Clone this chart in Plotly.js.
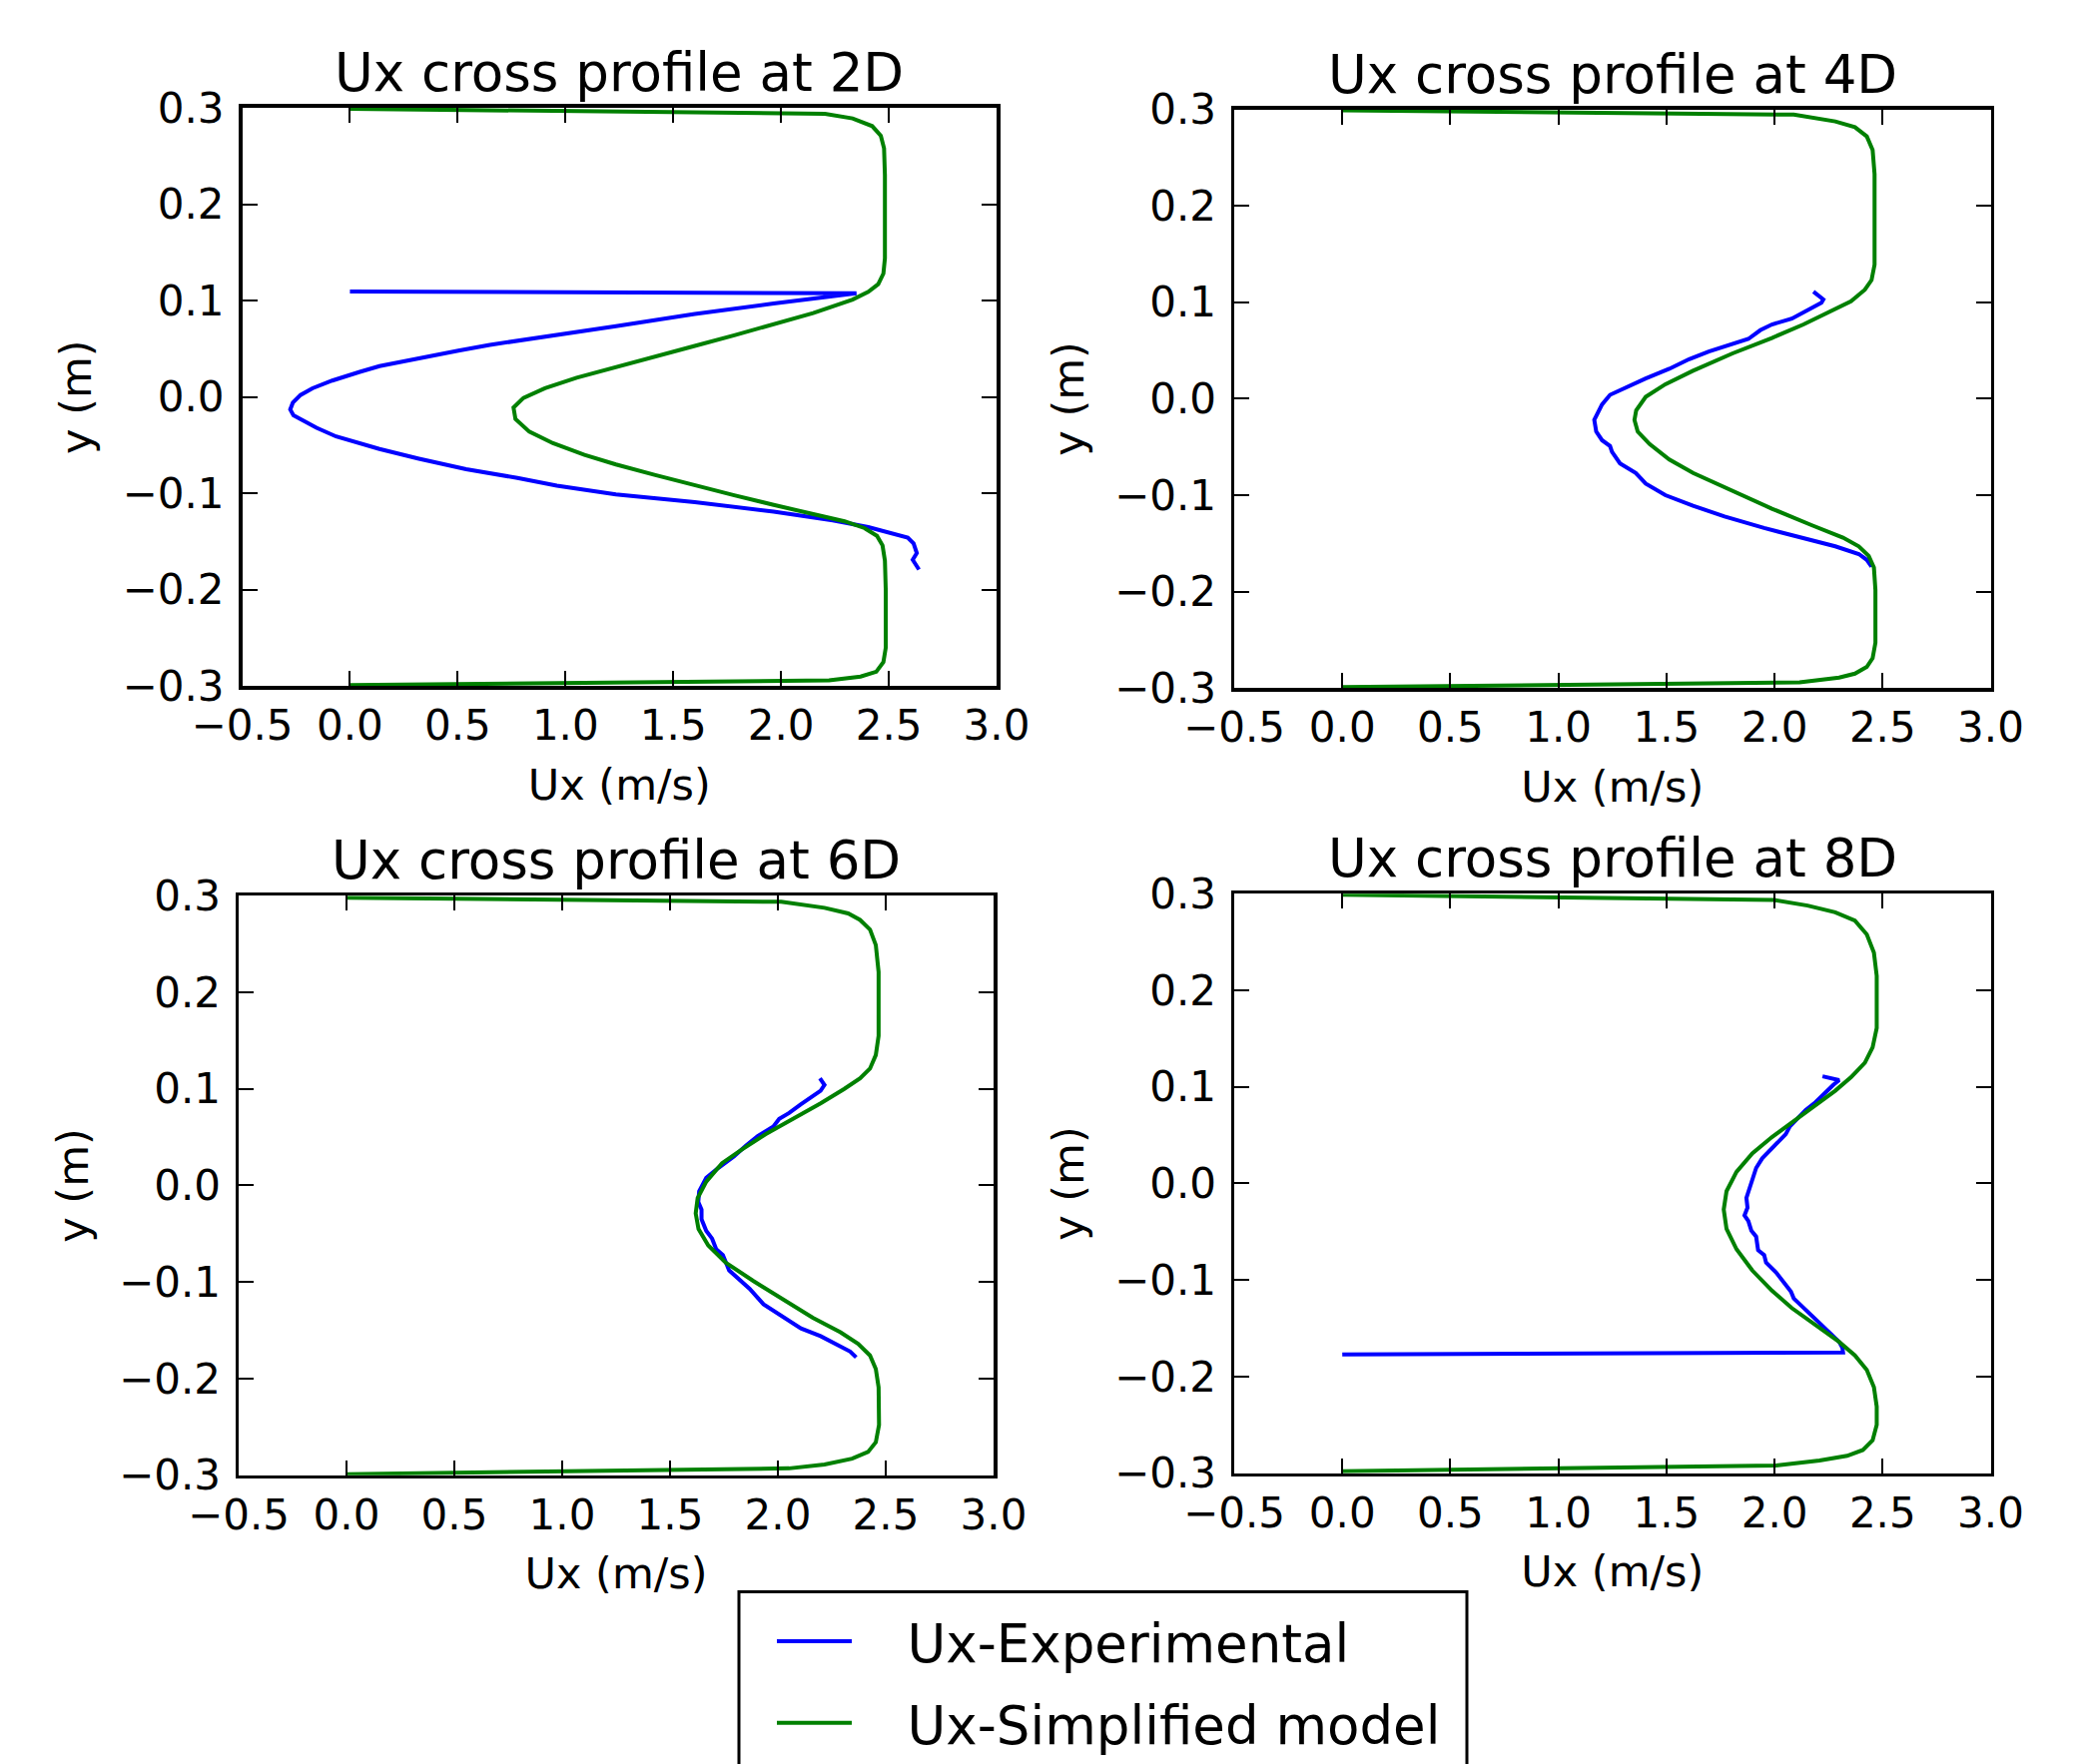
<!DOCTYPE html>
<html>
<head>
<meta charset="utf-8">
<script src="https://cdn.plot.ly/plotly-3.0.1.min.js"></script>
<style>html,body{margin:0;padding:0;background:#fff;}#chart{width:2084px;height:1767px;}</style>
</head>
<body>
<div id="chart"></div>
<script>
// ---- Data ----
const stations = ['2D', '4D', '6D', '8D'];
const xTickVals = [-0.5, 0, 0.5, 1.0, 1.5, 2.0, 2.5, 3.0];
const xTickText = ['\u22120.5', '0.0', '0.5', '1.0', '1.5', '2.0', '2.5', '3.0'];
const yTickVals = [-0.3, -0.2, -0.1, 0.0, 0.1, 0.2, 0.3];
const yTickText = ['\u22120.3', '\u22120.2', '\u22120.1', '0.0', '0.1', '0.2', '0.3'];

// 2D
const exp2D_ux = [0.0, 2.35, 1.966, 1.600, 1.234, 0.869, 0.649, 0.503, 0.320, 0.137, 0.046, -0.082, -0.174, -0.229, -0.265, -0.277, -0.262, -0.229, -0.155, -0.064, 0.137, 0.320, 0.539, 0.777, 0.960, 1.234, 1.600, 1.966, 2.240, 2.405, 2.515, 2.588, 2.615, 2.630, 2.611, 2.625, 2.640];
const exp2D_y  = [0.1095, 0.1076, 0.097, 0.086, 0.0735, 0.0617, 0.054, 0.048, 0.040, 0.032, 0.026, 0.017, 0.009, 0.002, -0.006, -0.013, -0.019, -0.023, -0.032, -0.041, -0.054, -0.064, -0.075, -0.084, -0.092, -0.101, -0.109, -0.119, -0.128, -0.135, -0.141, -0.146, -0.152, -0.162, -0.169, -0.174, -0.179];
const sim2D_ux = [0.0, 2.204, 2.332, 2.423, 2.463, 2.478, 2.482, 2.482, 2.475, 2.451, 2.405, 2.332, 2.149, 1.966, 1.783, 1.600, 1.417, 1.234, 1.052, 0.905, 0.805, 0.759, 0.768, 0.832, 0.942, 1.088, 1.234, 1.417, 1.600, 1.783, 1.966, 2.149, 2.295, 2.387, 2.445, 2.471, 2.482, 2.486, 2.486, 2.475, 2.442, 2.369, 2.223, 0.0];
const sim2D_y  = [0.299, 0.2937, 0.289, 0.281, 0.271, 0.258, 0.230, 0.144, 0.128, 0.117, 0.109, 0.101, 0.087, 0.075, 0.064, 0.053, 0.042, 0.032, 0.020, 0.009, -0.001, -0.011, -0.023, -0.036, -0.048, -0.060, -0.070, -0.081, -0.092, -0.102, -0.112, -0.121, -0.129, -0.136, -0.144, -0.154, -0.170, -0.201, -0.260, -0.275, -0.285, -0.290, -0.294, -0.299];

// 4D
const exp4D_ux = [2.180, 2.226, 2.217, 2.153, 2.080, 1.988, 1.934, 1.879, 1.806, 1.696, 1.605, 1.513, 1.404, 1.312, 1.239, 1.202, 1.166, 1.175, 1.202, 1.239, 1.248, 1.285, 1.312, 1.358, 1.404, 1.495, 1.623, 1.769, 1.952, 2.134, 2.281, 2.390, 2.427, 2.449];
const exp4D_y  = [0.111, 0.103, 0.0995, 0.092, 0.083, 0.077, 0.071, 0.062, 0.057, 0.049, 0.041, 0.031, 0.021, 0.011, 0.004, -0.006, -0.022, -0.034, -0.043, -0.049, -0.055, -0.067, -0.071, -0.077, -0.088, -0.100, -0.111, -0.122, -0.134, -0.144, -0.153, -0.161, -0.167, -0.174];
const sim4D_ux = [0.0, 2.089, 2.281, 2.372, 2.427, 2.454, 2.463, 2.463, 2.449, 2.418, 2.354, 2.262, 2.134, 1.988, 1.806, 1.623, 1.495, 1.404, 1.360, 1.352, 1.367, 1.422, 1.513, 1.623, 1.806, 1.988, 2.171, 2.317, 2.390, 2.436, 2.460, 2.467, 2.467, 2.454, 2.427, 2.372, 2.299, 2.116, 0.0];
const sim4D_y  = [0.299, 0.2945, 0.2875, 0.2816, 0.272, 0.258, 0.233, 0.139, 0.123, 0.113, 0.101, 0.091, 0.077, 0.063, 0.047, 0.029, 0.015, 0.002, -0.012, -0.022, -0.034, -0.047, -0.063, -0.077, -0.096, -0.114, -0.131, -0.144, -0.153, -0.163, -0.175, -0.198, -0.253, -0.269, -0.278, -0.285, -0.289, -0.294, -0.299];

// 6D
const exp6D_ux = [2.195, 2.216, 2.198, 2.162, 2.107, 2.052, 2.006, 1.979, 1.906, 1.851, 1.796, 1.723, 1.668, 1.635, 1.631, 1.646, 1.646, 1.668, 1.695, 1.714, 1.745, 1.774, 1.814, 1.869, 1.933, 2.015, 2.107, 2.198, 2.271, 2.335, 2.363];
const exp6D_y  = [0.111, 0.104, 0.098, 0.092, 0.084, 0.075, 0.069, 0.061, 0.051, 0.041, 0.030, 0.018, 0.008, -0.006, -0.017, -0.025, -0.035, -0.047, -0.055, -0.066, -0.072, -0.088, -0.096, -0.107, -0.123, -0.135, -0.148, -0.156, -0.164, -0.172, -0.178];
const sim6D_ux = [0.0, 2.015, 2.216, 2.326, 2.381, 2.427, 2.454, 2.467, 2.467, 2.454, 2.427, 2.381, 2.308, 2.198, 2.070, 1.942, 1.832, 1.741, 1.668, 1.628, 1.619, 1.632, 1.677, 1.759, 1.887, 2.034, 2.162, 2.290, 2.372, 2.427, 2.454, 2.467, 2.469, 2.454, 2.418, 2.344, 2.216, 2.052, 0.0];
const sim6D_y  = [0.298, 0.2937, 0.2875, 0.2817, 0.275, 0.265, 0.249, 0.221, 0.155, 0.135, 0.121, 0.111, 0.100, 0.085, 0.069, 0.053, 0.037, 0.023, 0.004, -0.013, -0.029, -0.045, -0.062, -0.080, -0.099, -0.119, -0.137, -0.152, -0.164, -0.176, -0.190, -0.209, -0.248, -0.266, -0.276, -0.283, -0.289, -0.293, -0.299];

// 8D
const exp8D_ux = [2.222, 2.299, 2.272, 2.226, 2.189, 2.144, 2.116, 2.071, 2.052, 2.016, 1.979, 1.943, 1.915, 1.893, 1.870, 1.875, 1.861, 1.879, 1.893, 1.915, 1.924, 1.952, 1.961, 2.007, 2.043, 2.076, 2.089, 2.134, 2.208, 2.262, 2.299, 2.314, 2.317, 0.0];
const exp8D_y  = [0.111, 0.107, 0.102, 0.092, 0.084, 0.076, 0.069, 0.059, 0.051, 0.043, 0.035, 0.026, 0.016, 0.000, -0.015, -0.025, -0.033, -0.039, -0.049, -0.055, -0.069, -0.074, -0.082, -0.092, -0.102, -0.112, -0.119, -0.129, -0.145, -0.156, -0.164, -0.170, -0.175, -0.177];
const sim8D_ux = [0.0, 1.999, 2.153, 2.281, 2.372, 2.427, 2.460, 2.473, 2.473, 2.454, 2.418, 2.354, 2.281, 2.189, 2.098, 1.988, 1.897, 1.824, 1.778, 1.765, 1.778, 1.824, 1.897, 1.988, 2.080, 2.189, 2.299, 2.372, 2.427, 2.460, 2.473, 2.473, 2.454, 2.409, 2.336, 2.208, 2.007, 0.0];
const sim8D_y  = [0.299, 0.2935, 0.2878, 0.2808, 0.2722, 0.258, 0.239, 0.215, 0.161, 0.141, 0.125, 0.110, 0.096, 0.081, 0.065, 0.048, 0.031, 0.012, -0.008, -0.027, -0.047, -0.068, -0.090, -0.111, -0.129, -0.147, -0.164, -0.178, -0.193, -0.211, -0.231, -0.250, -0.266, -0.276, -0.282, -0.287, -0.292, -0.298];

const seriesNames = ['Ux-Experimental', 'Ux-Simplified model'];
const titleText = 'Ux cross profile at ';
const xLabel = 'Ux (m/s)';
const yLabel = 'y (m)';

// ---- Layout ----
const W = 2084, H = 1767;
const FONT = 'DejaVu Sans, Verdana, sans-serif';
const boxes = [ // pixel boxes: [left, right, top, bottom]
  [242.5, 998, 109, 694],
  [1236, 1993.5, 110.6, 696],
  [239, 995, 906, 1492],
  [1236, 1993.5, 904, 1490]
];
const expData = [[exp2D_ux, exp2D_y], [exp4D_ux, exp4D_y], [exp6D_ux, exp6D_y], [exp8D_ux, exp8D_y]];
const simData = [[sim2D_ux, sim2D_y], [sim4D_ux, sim4D_y], [sim6D_ux, sim6D_y], [sim8D_ux, sim8D_y]];
const PAD = '\u00a0\u00a0\u00a0';

const traces = [];
const layout = {
  width: W, height: H,
  margin: {l: 0, r: 0, t: 0, b: 0},
  paper_bgcolor: '#fff', plot_bgcolor: '#fff',
  font: {family: FONT, color: '#000'},
  showlegend: true,
  legend: {
    x: 773 / W, xanchor: 'left',
    y: 1 - 1619 / H, yanchor: 'top',
    borderwidth: 0, bgcolor: 'rgba(0,0,0,0)',
    font: {family: FONT, size: 53, color: '#000'},
    traceorder: 'grouped', tracegroupgap: 10,
    itemwidth: 75
  },
  shapes: [{
    type: 'rect', xref: 'paper', yref: 'paper', layer: 'above',
    x0: 740 / W, x1: 1469 / W, y0: 1 - 1610 / H, y1: 1 - 1800 / H,
    line: {color: '#000', width: 3}, fillcolor: 'rgba(0,0,0,0)'
  }],
  annotations: []
};

stations.forEach((st, i) => {
  const n = i + 1;
  const xa = 'x' + (n === 1 ? '' : n), ya = 'y' + (n === 1 ? '' : n);
  const b = boxes[i];
  traces.push({
    x: expData[i][0], y: expData[i][1], xaxis: xa, yaxis: ya,
    type: 'scatter', mode: 'lines', name: PAD + seriesNames[0],
    legendgroup: 'exp', showlegend: i === 0,
    line: {color: '#0000ff', width: 4}
  });
  traces.push({
    x: simData[i][0], y: simData[i][1], xaxis: xa, yaxis: ya,
    type: 'scatter', mode: 'lines', name: PAD + seriesNames[1],
    legendgroup: 'sim', showlegend: i === 0,
    line: {color: '#008000', width: 4}
  });
  const common = {
    showline: true, linecolor: '#000', linewidth: 3.5, mirror: 'allticks',
    ticks: 'inside', ticklen: 15, tickwidth: 2, tickcolor: '#000',
    showgrid: false, zeroline: false, fixedrange: true,
    tickfont: {family: FONT, size: 42, color: '#000'}
  };
  layout['xaxis' + (n === 1 ? '' : n)] = Object.assign({}, common, {
    domain: [b[0] / W, b[1] / W], anchor: ya,
    range: [-0.5, 3.0], tickvals: xTickVals, ticktext: xTickText,
    ticklabelstandoff: 0,
    title: {text: xLabel, font: {family: FONT, size: 43, color: '#000'}, standoff: 21}
  });
  layout['yaxis' + (n === 1 ? '' : n)] = Object.assign({}, common, {
    domain: [1 - b[3] / H, 1 - b[2] / H], anchor: xa,
    range: [-0.3, 0.3], tickvals: yTickVals, ticktext: yTickText,
    ticklabelstandoff: 6,
    title: {text: yLabel, font: {family: FONT, size: 43, color: '#000'}, standoff: 18}
  });
  layout.annotations.push({
    text: titleText + st, xref: 'paper', yref: 'paper',
    x: (b[0] + b[1]) / 2 / W, y: 1 - b[2] / H,
    xanchor: 'center', yanchor: 'bottom', yshift: 3, showarrow: false,
    font: {family: FONT, size: 53, color: '#000'}
  });
});

Plotly.newPlot('chart', traces, layout, {displayModeBar: false, staticPlot: true});
</script>
</body>
</html>
